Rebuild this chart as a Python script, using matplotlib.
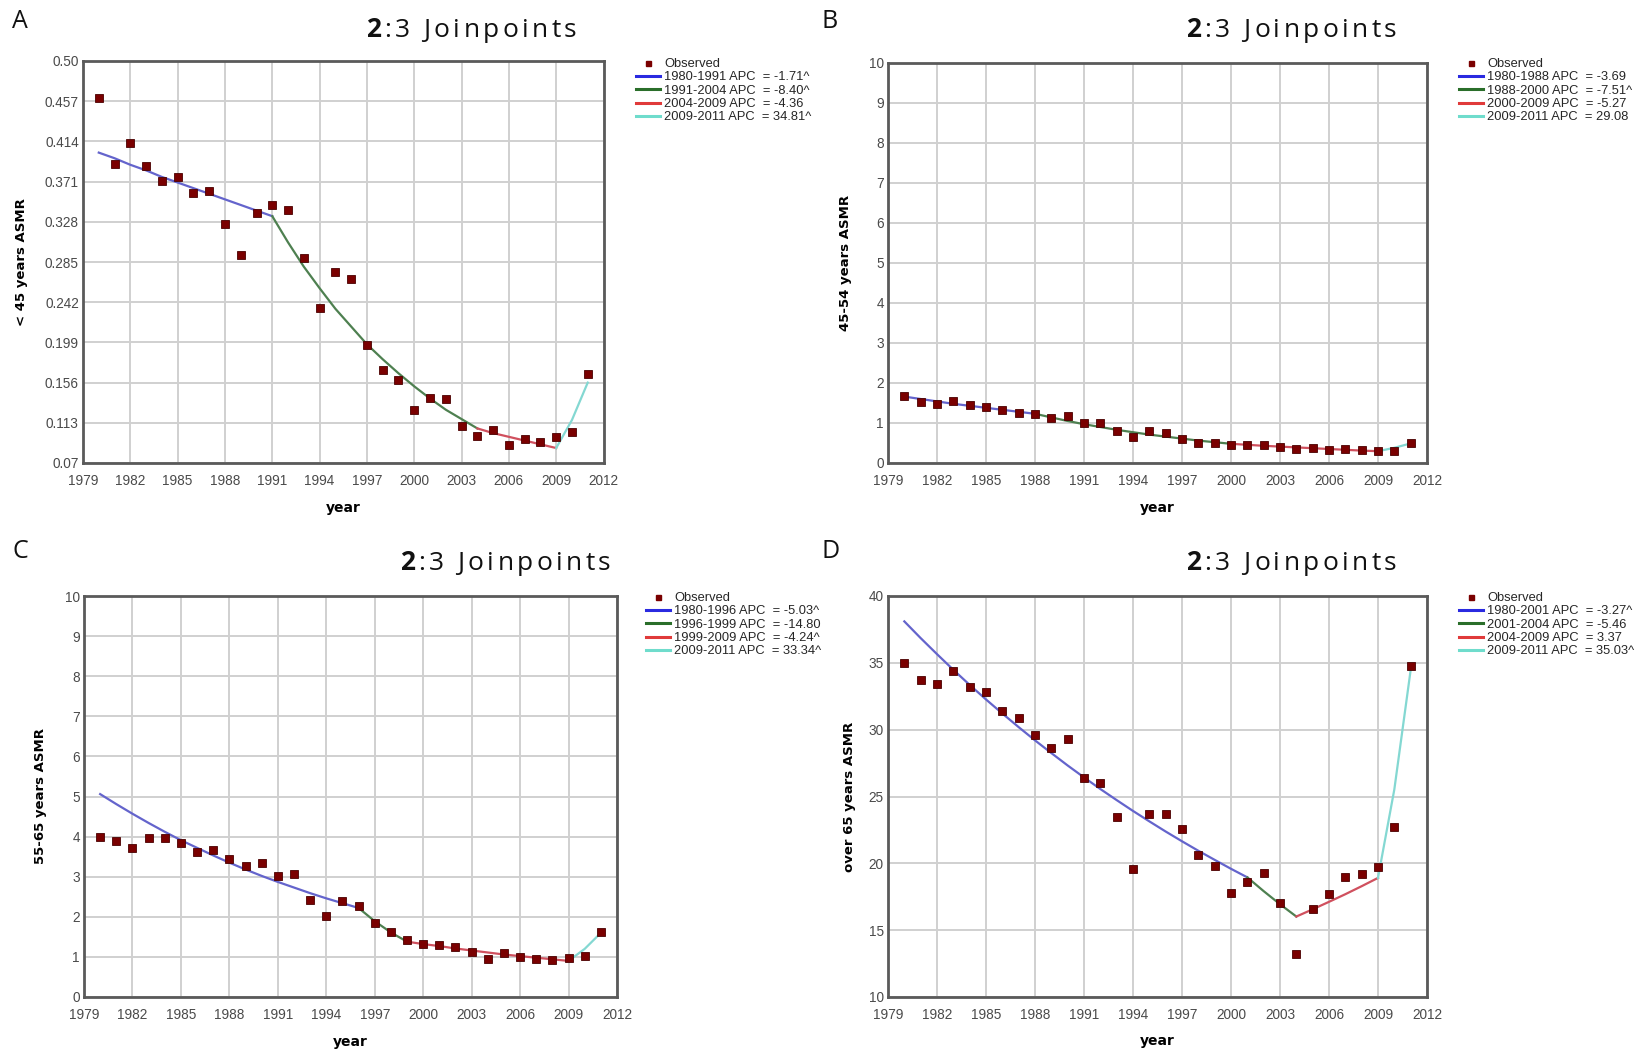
import matplotlib
matplotlib.use('Agg')
import matplotlib.pyplot as plt
from matplotlib.lines import Line2D
from matplotlib import font_manager

# ---------------- data ----------------
years = list(range(1980, 2012))
xticks = list(range(1979, 2013, 3))

a_obs = [0.460, 0.390, 0.412, 0.388, 0.372, 0.376, 0.359, 0.361, 0.326, 0.292,
         0.337, 0.346, 0.341, 0.289, 0.236, 0.274, 0.267, 0.196, 0.170, 0.159,
         0.127, 0.140, 0.138, 0.110, 0.0985, 0.105, 0.089, 0.096, 0.092, 0.098,
         0.103, 0.165]
a_segments = [(1980, 1991), (1991, 2004), (2004, 2009), (2009, 2011)]
a_fit = [[0.402, 0.396, 0.389, 0.383, 0.376, 0.370, 0.364, 0.358, 0.352, 0.346, 0.340, 0.334],
         [0.334, 0.306, 0.280, 0.257, 0.235, 0.216, 0.197, 0.181, 0.166, 0.152, 0.139, 0.127, 0.117, 0.107],
         [0.107, 0.102, 0.098, 0.094, 0.090, 0.086],
         [0.086, 0.116, 0.156]]
a_labels = ["1980-1991 APC  = -1.71^", "1991-2004 APC  = -8.40^",
            "2004-2009 APC  = -4.36", "2009-2011 APC  = 34.81^"]
a_yticks = [0.07, 0.113, 0.156, 0.199, 0.242, 0.285, 0.328, 0.371, 0.414, 0.457, 0.50]
a_yticklabels = ["0.07", "0.113", "0.156", "0.199", "0.242", "0.285", "0.328",
                 "0.371", "0.414", "0.457", "0.50"]

b_obs = [1.68, 1.52, 1.48, 1.55, 1.44, 1.39, 1.33, 1.26, 1.23, 1.12,
         1.18, 1.00, 1.00, 0.81, 0.65, 0.79, 0.75, 0.60, 0.50, 0.50,
         0.44, 0.44, 0.46, 0.41, 0.35, 0.37, 0.32, 0.35, 0.32, 0.30,
         0.31, 0.50]
b_segments = [(1980, 1988), (1988, 2000), (2000, 2009), (2009, 2011)]
b_fit = [[1.66, 1.60, 1.54, 1.48, 1.43, 1.38, 1.33, 1.28, 1.23],
         [1.23, 1.14, 1.05, 0.97, 0.90, 0.83, 0.77, 0.71, 0.66, 0.61, 0.56, 0.52, 0.48],
         [0.48, 0.455, 0.43, 0.41, 0.39, 0.37, 0.35, 0.33, 0.31, 0.295],
         [0.295, 0.38, 0.49]]
b_labels = ["1980-1988 APC  = -3.69", "1988-2000 APC  = -7.51^",
            "2000-2009 APC  = -5.27", "2009-2011 APC  = 29.08"]
b_yticks = list(range(0, 11))
b_yticklabels = [str(v) for v in b_yticks]

c_obs = [4.00, 3.89, 3.72, 3.96, 3.96, 3.85, 3.62, 3.66, 3.44, 3.26,
         3.34, 3.01, 3.07, 2.42, 2.01, 2.39, 2.28, 1.84, 1.61, 1.42,
         1.31, 1.29, 1.25, 1.12, 0.95, 1.10, 0.99, 0.96, 0.92, 0.97,
         1.03, 1.61]
c_segments = [(1980, 1996), (1996, 1999), (1999, 2009), (2009, 2011)]
c_fit = [[5.06, 4.81, 4.57, 4.34, 4.12, 3.91, 3.72, 3.53, 3.35, 3.18, 3.02, 2.87, 2.73, 2.59, 2.46, 2.34, 2.22],
         [2.22, 1.89, 1.61, 1.38],
         [1.38, 1.32, 1.27, 1.21, 1.16, 1.11, 1.06, 1.02, 0.98, 0.94, 0.90],
         [0.90, 1.20, 1.60]]
c_labels = ["1980-1996 APC  = -5.03^", "1996-1999 APC  = -14.80",
            "1999-2009 APC  = -4.24^", "2009-2011 APC  = 33.34^"]
c_yticks = list(range(0, 11))
c_yticklabels = [str(v) for v in c_yticks]

d_obs = [35.0, 33.7, 33.4, 34.4, 33.2, 32.8, 31.4, 30.9, 29.6, 28.6,
         29.3, 26.4, 26.0, 23.5, 19.6, 23.7, 23.7, 22.6, 20.6, 19.8,
         17.8, 18.6, 19.3, 17.0, 13.2, 16.6, 17.7, 19.0, 19.2, 19.7,
         22.7, 34.8]
d_segments = [(1980, 2001), (2001, 2004), (2004, 2009), (2009, 2011)]
d_fit = [[38.1, 36.85, 35.65, 34.48, 33.35, 32.26, 31.21, 30.19, 29.20, 28.25, 27.32,
          26.43, 25.56, 24.73, 23.92, 23.14, 22.38, 21.65, 20.94, 20.26, 19.59, 18.95],
         [18.95, 17.92, 16.94, 16.02],
         [16.02, 16.56, 17.12, 17.69, 18.29, 18.91],
         [18.91, 25.53, 34.47]]
d_labels = ["1980-2001 APC  = -3.27^", "2001-2004 APC  = -5.46",
            "2004-2009 APC  = 3.37", "2009-2011 APC  = 35.03^"]
d_yticks = [10, 15, 20, 25, 30, 35, 40]
d_yticklabels = [str(v) for v in d_yticks]

ylabels = ["< 45 years ASMR", "45-54 years ASMR", "55-65 years ASMR", "over 65 years ASMR"]
panel_letters = ["A", "B", "C", "D"]
title_bold = "2"
title_rest = ":3 Joinpoints"

# ---------------- style ----------------
W, H, DPI = 1639, 1054, 100
names = {f.name for f in font_manager.fontManager.ttflist}
NARROW = ['Liberation Sans Narrow', 'DejaVu Sans'] if 'Liberation Sans Narrow' in names \
    else ['Liberation Sans', 'DejaVu Sans']
TITLE_FONT = ['Open Sans', 'DejaVu Sans']

line_colors = ['#6464cc', '#4e8050', '#d0505e', '#84d8d2']
legend_colors = ['#2a2ae0', '#2a6e2a', '#e03a3a', '#6fdccc']
obs_color = '#7a0000'

fig = plt.figure(figsize=(W / DPI, H / DPI), dpi=DPI)
renderer = fig.canvas.get_renderer()


def px_rect(l, t, r, b):
    return [l / W, 1 - b / H, (r - l) / W, (b - t) / H]


def tracked_title(x_px, y_px, size=19, tracking=3.4, space=7.0):
    x = x_px
    chars = [(c, 'bold') for c in title_bold] + [(c, 'normal') for c in title_rest]
    for ch, wt in chars:
        if ch == ' ':
            x += space + tracking
            continue
        t = fig.text(x / W, 1 - y_px / H, ch, fontsize=size, fontweight=wt,
                     family=TITLE_FONT, va='baseline', ha='left', color='#111111')
        bb = t.get_window_extent(renderer)
        x = bb.x1 + tracking


panels = [
    dict(rect=(83, 61, 603.5, 463), obs=a_obs, seg=a_segments, fit=a_fit, labels=a_labels,
         yt=a_yticks, ytl=a_yticklabels, ylim=(0.07, 0.50), ylx=28, xly=501,
         letter=(12, 21), title=(366, 37), leg=(636, 58)),
    dict(rect=(888, 63, 1427, 463), obs=b_obs, seg=b_segments, fit=b_fit, labels=b_labels,
         yt=b_yticks, ytl=b_yticklabels, ylim=(0, 10), ylx=852, xly=501,
         letter=(822, 21), title=(1186, 37), leg=(1459, 58)),
    dict(rect=(84, 596, 617, 997), obs=c_obs, seg=c_segments, fit=c_fit, labels=c_labels,
         yt=c_yticks, ytl=c_yticklabels, ylim=(0, 10), ylx=47, xly=1035,
         letter=(12, 552), title=(400, 570), leg=(646, 592)),
    dict(rect=(888, 596, 1427, 997), obs=d_obs, seg=d_segments, fit=d_fit, labels=d_labels,
         yt=d_yticks, ytl=d_yticklabels, ylim=(10, 40), ylx=856, xly=1034,
         letter=(822, 552), title=(1186, 570), leg=(1459, 592)),
]

for i, p in enumerate(panels):
    l, t, r, b = p['rect']
    ax = fig.add_axes(px_rect(l, t, r, b))
    ax.set_xlim(1979, 2012)
    ax.set_ylim(*p['ylim'])
    ax.set_xticks(xticks)
    ax.set_xticklabels([str(x) for x in xticks])
    ax.set_yticks(p['yt'])
    ax.set_yticklabels(p['ytl'])
    ax.tick_params(length=0, labelsize=9.8, labelcolor='#4a4a4a')
    ax.tick_params(axis='x', pad=8)
    ax.tick_params(axis='y', pad=3)
    for lab in ax.get_xticklabels() + ax.get_yticklabels():
        lab.set_family(NARROW)
    ax.grid(True, color='#d0d0d0', linewidth=1.4)
    ax.set_axisbelow(True)
    for s in ax.spines.values():
        s.set_color('#5a5a5a')
        s.set_linewidth(2.0)

    # fitted joinpoint segments
    for k, ((y0, y1), vals) in enumerate(zip(p['seg'], p['fit'])):
        ax.plot(list(range(y0, y1 + 1)), vals, color=line_colors[k], lw=1.6, zorder=3)
    # observed
    ax.plot(years, p['obs'], linestyle='none', marker='s', markersize=5.4,
            color=obs_color, markeredgecolor='#4a0000', markeredgewidth=0.6, zorder=4)

    ax.set_ylabel(ylabels[i], fontsize=9.5, fontweight='bold', family='DejaVu Sans')
    ax.yaxis.set_label_coords((p['ylx'] - l) / (r - l), 0.5)
    ax.set_xlabel('year', fontsize=10, fontweight='bold', family='DejaVu Sans')
    ax.xaxis.set_label_coords(0.5, (b - p['xly']) / (b - t))

    # legend
    handles = [Line2D([], [], linestyle='none', marker='s', markersize=3.6, color=obs_color)]
    handles += [Line2D([], [], color=c, lw=2.2) for c in legend_colors]
    lx, ly = p['leg']
    leg = fig.legend(handles, ['Observed'] + p['labels'], loc='upper left',
                     bbox_to_anchor=(lx / W, 1 - ly / H), bbox_transform=fig.transFigure,
                     frameon=False, borderpad=0, borderaxespad=0, handlelength=1.85,
                     handletextpad=0.35, labelspacing=0.1,
                     prop={'family': NARROW, 'size': 9.3})
    for txt in leg.get_texts():
        txt.set_color('#262626')

    # panel letter
    fig.text(p['letter'][0] / W, 1 - p['letter'][1] / H, panel_letters[i],
             fontsize=18, family=TITLE_FONT, va='center', ha='left', color='#111111')
    # title: bold "2" followed by ":3 Joinpoints"
    tracked_title(*p['title'])

fig.savefig('out.png', dpi=DPI)
